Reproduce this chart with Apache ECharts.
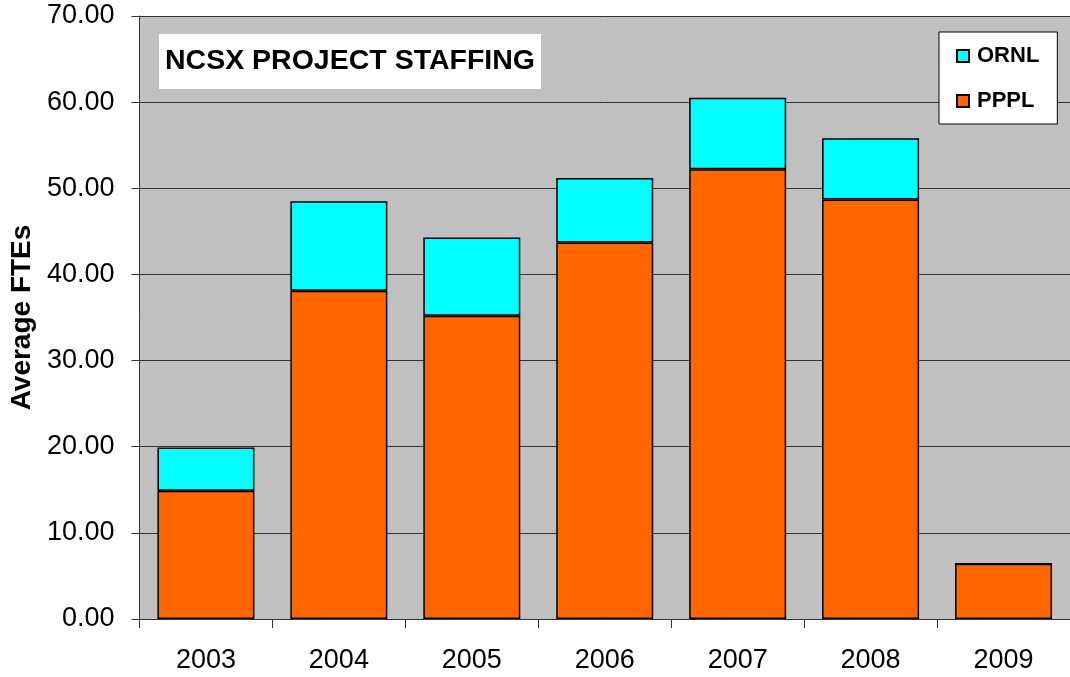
<!DOCTYPE html>
<html>
<head>
<meta charset="utf-8">
<script src="https://cdn.jsdelivr.net/npm/echarts@6/dist/echarts.min.js"></script>
<style>
  html, body { margin: 0; padding: 0; background: #fff; }
  #chart { width: 1070px; height: 677px; }
</style>
</head>
<body>
<div id="chart"></div>
<script>
    var years = ['2003', '2004', '2005', '2006', '2007', '2008', '2009'];
    var pppl = [14.9, 38.1, 35.2, 43.7, 52.2, 48.7, 6.4];
    var ornl = [5.0, 10.4, 9.1, 7.5, 8.3, 7.1, 0];
    var yTicks = { min: 0, max: 70, interval: 10 };

    var font = '"Liberation Sans", Arial, sans-serif';
    var lineColor = '#333333';

    var myChart = echarts.init(document.getElementById('chart'));
    var option = {
        backgroundColor: '#fff',
        animation: false,
        title: {
            text: 'NCSX PROJECT STAFFING',
            left: 159,
            top: 34,
            padding: [13, 6, 13, 6],
            backgroundColor: '#fff',
            textStyle: {
                fontFamily: font,
                fontSize: 28.5,
                fontWeight: 'bold',
                color: '#000'
            }
        },
        legend: {
            data: ['ORNL', 'PPPL'],
            orient: 'vertical',
            left: 939,
            top: 32,
            padding: [13, 18, 12, 17],
            itemGap: 23,
            itemWidth: 12,
            itemHeight: 12,
            backgroundColor: '#fff',
            borderColor: '#000',
            borderWidth: 1,
            borderRadius: 0,
            icon: 'rect',
            textStyle: {
                fontFamily: font,
                fontSize: 22,
                fontWeight: 'bold',
                color: '#000',
                padding: [0, 0, 0, 3]
            }
        },
        grid: {
            left: 138,
            top: 16,
            width: 938,
            height: 603,
            show: true,
            backgroundColor: '#c0c0c0',
            borderWidth: 0
        },
        xAxis: {
            type: 'category',
            data: years,
            axisLine: { lineStyle: { color: lineColor, width: 1 } },
            axisTick: { show: true, length: 9, lineStyle: { color: lineColor } },
            axisLabel: {
                margin: 28,
                fontFamily: font,
                fontSize: 27,
                color: '#000'
            }
        },
        yAxis: {
            type: 'value',
            min: yTicks.min,
            max: yTicks.max,
            interval: yTicks.interval,
            name: 'Average FTEs',
            nameLocation: 'middle',
            nameGap: 102,
            nameTextStyle: {
                fontFamily: font,
                fontSize: 28,
                fontWeight: 'bold',
                color: '#000'
            },
            axisLine: { show: true, lineStyle: { color: lineColor, width: 1 } },
            axisTick: { show: true, length: 8, lineStyle: { color: lineColor } },
            splitLine: { lineStyle: { color: lineColor, width: 1 } },
            axisLabel: {
                margin: 25,
                fontFamily: font,
                fontSize: 27,
                color: '#000',
                formatter: function (v) { return v.toFixed(2); }
            }
        },
        series: [
            {
                name: 'PPPL',
                type: 'bar',
                stack: 'fte',
                barWidth: 97,
                itemStyle: { color: '#ff6600', borderColor: '#000', borderWidth: 1.5 },
                data: pppl
            },
            {
                name: 'ORNL',
                type: 'bar',
                stack: 'fte',
                barWidth: 97,
                itemStyle: { color: '#00ffff', borderColor: '#000', borderWidth: 1.5 },
                data: ornl
            }
        ]
    };
    myChart.setOption(option, true);
</script>
</body>
</html>
